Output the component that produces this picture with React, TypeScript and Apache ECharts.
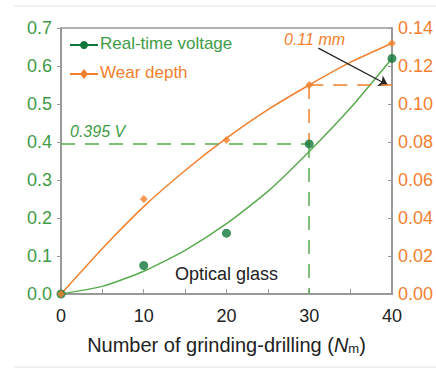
import React, { useEffect, useRef } from "react";
import * as echarts from "echarts";

const xPoints = [0, 10, 20, 30, 40];
const voltagePoints = [0, 0.075, 0.16, 0.395, 0.62];
const wearPoints = [0, 0.05, 0.081, 0.11, 0.132];
const fitX = [0, 5, 10, 15, 20, 25, 30, 35, 40];
const voltageFit = [0, 0.02, 0.06, 0.115, 0.185, 0.27, 0.375, 0.49, 0.62];
const wearFit = [0, 0.024, 0.046, 0.065, 0.082, 0.097, 0.11, 0.122, 0.132];
const markX = 30;
const markVoltage = 0.395;
const markWear = 0.11;
const markWearAtVoltage = 0.079;
const arrowFrom = [31.1, 0.647];
const arrowTo = [39.5, 0.55];

const GREEN = "#3e9b45";
const GREEN_DARK = "#11773a";
const GREEN_LINE = "#5aab4f";
const ORANGE = "#f2802e";
const AXIS = "#999999";
const FONT = "Liberation Sans, Arial, sans-serif";

export default function App() {
  const ref = useRef<HTMLDivElement>(null);
  useEffect(() => {
    const chart = echarts.init(ref.current!, null, { renderer: "svg" });
    const zip = (xs: number[], ys: number[]) => xs.map((x, i) => [x, ys[i]]);
    chart.setOption({
      animation: false,
      backgroundColor: "#ffffff",
      textStyle: { fontFamily: FONT },
      grid: { left: 61, right: 44, top: 28, bottom: 76, show: true, borderColor: AXIS, borderWidth: 1.5 },
      xAxis: {
        type: "value",
        min: 0,
        max: 40,
        interval: 5,
        splitLine: { show: false },
        axisLine: { lineStyle: { color: AXIS, width: 2 } },
        axisTick: { inside: true, length: 5, lineStyle: { color: AXIS } },
        axisLabel: {
          color: "#222",
          fontSize: 18,
          margin: 13,
          fontFamily: FONT,
          formatter: (v: number) => (v % 10 === 0 ? String(v) : ""),
        },
        name: "{a|Number of grinding-drilling (}{i|N}{s|m}{a|)}",
        nameLocation: "middle",
        nameGap: 40,
        nameTextStyle: {
          rich: {
            a: { fontSize: 20, color: "#222", fontFamily: FONT },
            i: { fontSize: 20, color: "#222", fontStyle: "italic", fontFamily: FONT },
            s: { fontSize: 13, color: "#222", fontFamily: FONT, padding: [8, 0, 0, 0] },
          },
        },
      },
      yAxis: [
        {
          type: "value",
          min: 0,
          max: 0.7,
          interval: 0.1,
          splitLine: { show: false },
          axisLine: { show: true, lineStyle: { color: AXIS, width: 2 } },
          axisTick: { show: true, inside: false, length: 4, lineStyle: { color: AXIS } },
          axisLabel: {
            color: GREEN,
            fontSize: 18,
            margin: 9,
            fontFamily: FONT,
            formatter: (v: number) => v.toFixed(1),
          },
        },
        {
          type: "value",
          min: 0,
          max: 0.14,
          interval: 0.02,
          position: "right",
          splitLine: { show: false },
          axisLine: { show: true, lineStyle: { color: AXIS, width: 2 } },
          axisTick: { show: true, inside: true, length: 4, lineStyle: { color: AXIS } },
          axisLabel: {
            color: ORANGE,
            fontSize: 18,
            margin: 6,
            fontFamily: FONT,
            formatter: (v: number) => v.toFixed(2),
          },
        },
      ],
      series: [
        {
          name: "Real-time voltage fit",
          type: "line",
          smooth: 0.2,
          showSymbol: false,
          symbol: "none",
          data: zip(fitX, voltageFit),
          lineStyle: { color: GREEN_LINE, width: 1.5 },
          z: 3,
          markLine: {
            silent: true,
            symbol: ["none", "arrow"],
            symbolSize: 9,
            label: { show: false },
            lineStyle: { color: "#222", width: 1.2, type: "solid" },
            data: [[{ coord: arrowFrom }, { coord: arrowTo }]],
          },
        },
        {
          name: "Wear depth fit",
          type: "line",
          yAxisIndex: 1,
          smooth: 0.2,
          showSymbol: false,
          symbol: "none",
          data: zip(fitX, wearFit),
          lineStyle: { color: ORANGE, width: 1.5 },
          z: 3,
          markLine: {
            silent: true,
            symbol: ["none", "none"],
            label: { show: false },
            lineStyle: { color: ORANGE, width: 1.5, type: [14, 10] },
            data: [
              [{ coord: [markX, markWear] }, { coord: [40, markWear] }],
              [{ coord: [markX, markWear] }, { coord: [markX, markWearAtVoltage] }],
            ],
          },
        },
        {
          name: "Real-time voltage",
          type: "scatter",
          symbol: "circle",
          symbolSize: 9,
          data: zip(xPoints, voltagePoints),
          itemStyle: { color: GREEN_DARK },
          z: 5,
          markLine: {
            silent: true,
            symbol: ["none", "none"],
            label: { show: false },
            lineStyle: { color: GREEN_LINE, width: 1.5, type: [14, 10] },
            data: [
              [{ coord: [0, markVoltage] }, { coord: [markX, markVoltage] }],
              [{ coord: [markX, markVoltage] }, { coord: [markX, 0] }],
            ],
          },
        },
        {
          name: "Wear depth",
          type: "scatter",
          yAxisIndex: 1,
          symbol: "diamond",
          symbolSize: 8,
          data: zip(xPoints, wearPoints),
          itemStyle: { color: ORANGE },
          z: 5,
        },
      ],
      graphic: [
        { type: "line", shape: { x1: 14, y1: 6, x2: 436, y2: 6 }, style: { stroke: "#e2e2e2", lineWidth: 1 } },
        { type: "line", shape: { x1: 14, y1: 367, x2: 436, y2: 367 }, style: { stroke: "#e2e2e2", lineWidth: 1 } },
        { type: "line", shape: { x1: 70, y1: 45, x2: 98, y2: 45 }, style: { stroke: GREEN_DARK, lineWidth: 2 } },
        { type: "circle", shape: { cx: 84, cy: 45, r: 4 }, style: { fill: GREEN_DARK } },
        { type: "text", left: 100, top: 35, style: { text: "Real-time voltage", fill: GREEN, font: `17px ${FONT}` } },
        { type: "line", shape: { x1: 70, y1: 74, x2: 98, y2: 74 }, style: { stroke: ORANGE, lineWidth: 2 } },
        { type: "polygon", shape: { points: [[84, 69], [88, 74], [84, 79], [80, 74]] }, style: { fill: ORANGE } },
        { type: "text", left: 100, top: 64, style: { text: "Wear depth", fill: ORANGE, font: `17px ${FONT}` } },
        { type: "text", left: 70, top: 123, style: { text: "0.395 V", fill: GREEN, font: `italic 16px ${FONT}` } },
        { type: "text", left: 284, top: 31, style: { text: "0.11 mm", fill: ORANGE, font: `italic 16px ${FONT}` } },
        { type: "text", left: 175, top: 265, style: { text: "Optical glass", fill: "#222", font: `18px ${FONT}` } },
      ],
    });
    return () => chart.dispose();
  }, []);
  return (
    <div
      ref={ref}
      style={{ position: "absolute", left: 0, top: 0, width: 436, height: 370 }}
    />
  );
}
